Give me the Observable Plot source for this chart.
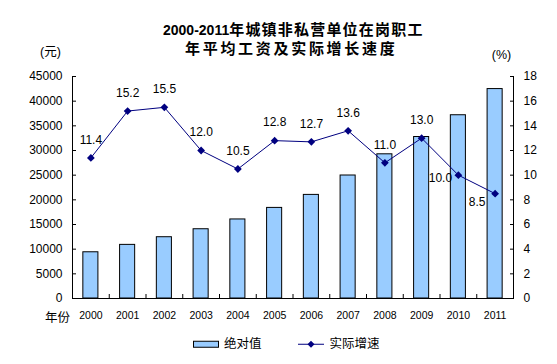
<!DOCTYPE html>
<html><head><meta charset="utf-8">
<script src="https://cdn.jsdelivr.net/npm/d3@7"></script>
<script src="https://cdn.jsdelivr.net/npm/@observablehq/plot@0.6"></script>
<style>
body{margin:0;background:#fff;font-family:"Liberation Sans","Noto Sans CJK SC",sans-serif;}
#wrap{position:relative;width:557px;height:364px;overflow:hidden}
.t{position:absolute;white-space:nowrap;transform:translateY(-50%);color:#000;line-height:1}
#chart{position:absolute;left:0;top:0}
</style></head><body>
<div id="wrap">
<div id="chart"></div>
<div class="t" style="left:163px;top:29px;font-size:14px;font-weight:bold">2000-2011<span style="font-size:15px;letter-spacing:1.2px">年城镇非私营单位在岗职工</span></div>
<div class="t" style="left:185px;top:48px;font-size:15px;font-weight:bold;letter-spacing:2.7px">年平均工资及实际增长速度</div>
<div class="t" style="left:190px;top:344px;font-size:12.5px;display:flex;align-items:center">
  <svg width="30" height="9" style="margin-right:4px"><rect x="3.5" y="1.5" width="25" height="6" fill="#99CCFF" stroke="#000"/></svg><span>绝对值</span>
  <svg width="34" height="9" style="margin-left:32px;margin-right:2px"><line x1="4" y1="4.5" x2="30" y2="4.5" stroke="#000080"/><path d="M17,1 L20.5,4.5 L17,8 L13.5,4.5Z" fill="#000080"/></svg><span>实际增速</span>
</div>
</div>
<script>
const years = [2000, 2001, 2002, 2003, 2004, 2005, 2006, 2007, 2008, 2009, 2010, 2011];
const wages = [9371, 10870, 12422, 14040, 16024, 18364, 21001, 24932, 29229, 32736, 37147, 42452];
const growth = [11.4, 15.2, 15.5, 12.0, 10.5, 12.8, 12.7, 13.6, 11.0, 13.0, 10.0, 8.5];
const leftTicks = [0, 5000, 10000, 15000, 20000, 25000, 30000, 35000, 40000, 45000];
const rightTicks = [0, 2, 4, 6, 8, 10, 12, 14, 16, 18];

const data = years.map((year, i) => ({year, wage: wages[i], growth: growth[i]}));
const k = 45000 / 18;
const gy = d => d.growth * k;
const boundaries = years.slice(0, -1).map(y => y + 0.5);
const font = '"Liberation Sans","Noto Sans CJK SC",sans-serif';
const navy = "#000080";
const lab = d => d.growth.toFixed(1);

const chart = Plot.plot({
  width: 557, height: 364,
  marginLeft: 72, marginRight: 44, marginTop: 76, marginBottom: 66,
  style: {fontFamily: font, fontSize: "12px", color: "#000", background: "transparent"},
  x: {domain: [1999.5, 2011.5]},
  y: {domain: [0, 45000]},
  marks: [
    Plot.rectY(data, {x1: d => d.year - 0.205, x2: d => d.year + 0.205, y: "wage", fill: "#99CCFF", stroke: "#000", strokeWidth: 1}),
    Plot.ruleX([1999.5, 2011.5], {stroke: "#000"}),
    Plot.ruleY([0], {stroke: "#000"}),
    Plot.axisY(leftTicks, {anchor: "left", tickSize: -4, tickPadding: 14, label: null, tickFormat: d => String(d), fontSize: 12}),
    Plot.axisY(rightTicks.map(v => v * k), {anchor: "right", tickSize: -4, tickPadding: 14, label: null, tickFormat: d => String(Math.round(d / k)), fontSize: 12}),
    Plot.axisX(boundaries, {anchor: "bottom", tickSize: -4, tickFormat: () => "", label: null}),
    Plot.axisX(years, {anchor: "bottom", tickSize: 0, tickPadding: 13, tickFormat: d => String(d), label: null, fontSize: 10.5}),
    Plot.line(data, {x: "year", y: gy, stroke: navy, strokeWidth: 1}),
    Plot.dot(data, {x: "year", y: gy, symbol: "diamond2", r: 3.5, fill: navy, stroke: "none"}),
    Plot.text(data.filter(d => d.year < 2010), {x: "year", y: gy, text: lab, dy: -18, fontSize: 12, fill: "#000"}),
    Plot.text(data.filter(d => d.year === 2010), {x: "year", y: gy, text: lab, dx: -18, dy: 3, fontSize: 12, fill: "#000"}),
    Plot.text(data.filter(d => d.year === 2011), {x: "year", y: gy, text: lab, dx: -18, dy: 8, fontSize: 12, fill: "#000"}),
    Plot.text(["(元)"], {frameAnchor: "top-left", textAnchor: "middle", lineAnchor: "middle", dx: -22, dy: -25, fontSize: 12.5, fill: "#000"}),
    Plot.text(["(%)"], {frameAnchor: "top-right", textAnchor: "middle", lineAnchor: "middle", dx: -12, dy: -22, fontSize: 12.5, fill: "#000"}),
    Plot.text(["年份"], {frameAnchor: "bottom-left", textAnchor: "middle", lineAnchor: "middle", dx: -15, dy: 19, fontSize: 12.5, fill: "#000"})
  ]
});
document.getElementById("chart").appendChild(chart);
</script>
</body></html>
